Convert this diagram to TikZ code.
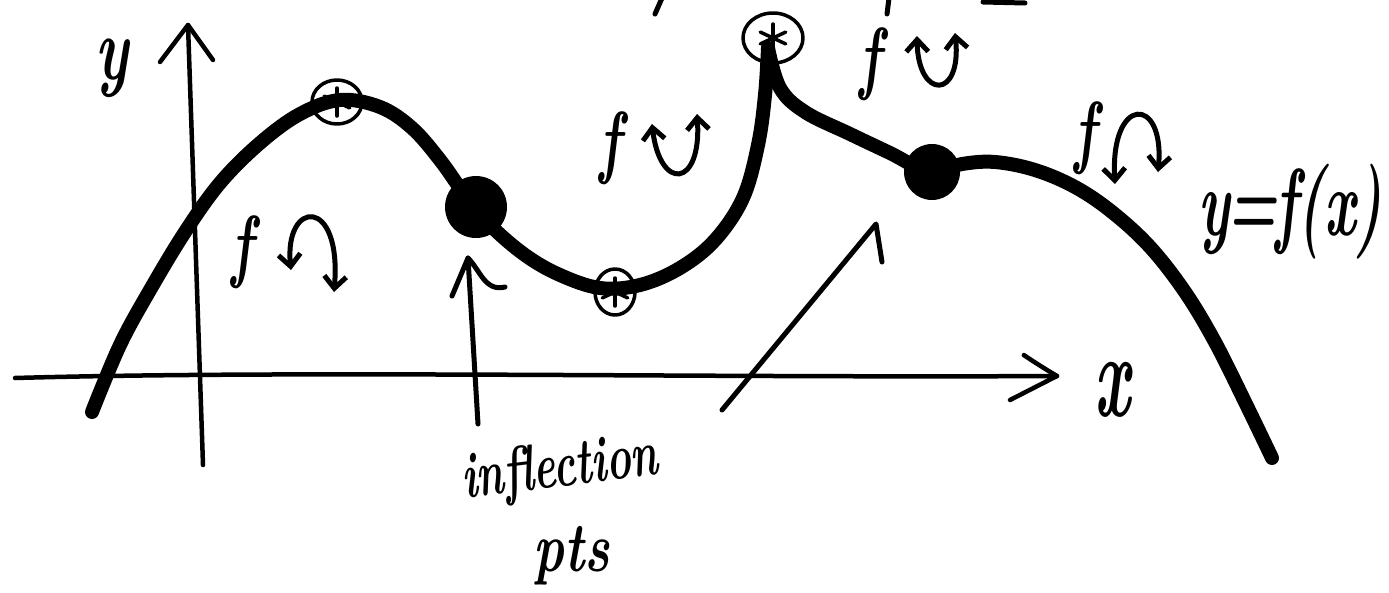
\documentclass[tikz,border=0pt]{standalone}
\usepackage{fontspec}
\usetikzlibrary{arrows.meta}
\begin{document}
\begin{tikzpicture}[x=1pt,y=-1pt,
  curve/.style={line width=14pt,line cap=round,line join=round},
  axis/.style={line width=4.5pt,line cap=round,line join=round},
  pen/.style={line width=5pt,line cap=round,line join=round},
  thinpen/.style={line width=3.5pt,line cap=round,line join=round},
  hand/.style={inner sep=0pt,font=\fontsize{#1}{#1}\selectfont\bfseries\itshape},
  hand/.default=60,
  bigdot/.style={circle,fill=black,inner sep=0pt,minimum size=#1},
  tipdd/.style={{Straight Barb[length=12pt,width=22pt,line width=5pt]}-{Straight Barb[length=12pt,width=22pt,line width=5pt]}}
]
\useasboundingbox (0,0) rectangle (1389,592);

% cut-off strokes at top edge
\draw[pen] (662,-2) -- (655,14);
\draw[pen] (889,-2) -- (887,14);
\draw[pen] (983,2) -- (1025,3);

% axes
\coordinate (xl) at (15,378);
\coordinate (xr) at (1057,376);
\draw[axis] (xl) .. controls (300,370) and (700,378) .. (xr);
\draw[axis] (1025,356) .. controls (1020,352) and (1030,360) .. (xr) -- (1010,400);
\coordinate (yb) at (203,465);
\coordinate (yt) at (188,25);
\draw[axis] (yb) -- (yt);
\draw[axis] (160,62) -- (yt) -- (213,60);

% main curve
\coordinate (cusp) at (768,48);
\draw[curve] plot[smooth,tension=0.6] coordinates {(92,412) (120,345) (150,290) (185,232) (220,183) (260,143) (300,114) (340,100) (380,107) (412,128) (440,160) (465,195) (490,225) (525,255) (560,275) (600,288) (640,285) (680,268) (715,240) (743,198) (758,145) (765,95) (768,48)};
\draw[curve] plot[smooth,tension=0.6] coordinates {(768,48) (780,88) (805,112) (850,134) (890,153) (930,172) (962,164) (995,162) (1035,170) (1075,187) (1112,212) (1150,247) (1185,292) (1215,342) (1245,402) (1272,458)};

% inflection points
\node[bigdot=62pt] (ip1) at (476,207) {};
\node[bigdot=56pt] (ip2) at (932,172) {};

% critical points (circled asterisks)
\foreach \name/\cx/\cy/\rx/\ry in {cmax/337/102/25/22, cmin/615/292/20/23, ccusp/773/38/30/25}{
  \coordinate (\name) at (\cx,\cy);
  \draw[thinpen] (\name) ellipse [x radius=\rx, y radius=\ry];
  \foreach \a in {90,25,155}{
    \draw[thinpen] (\name) ++(\a:14) -- ++(\a+180:28);
  }
}

% axis labels
\node[hand=62] (ylab) at (112,68) {\scalebox{0.95}[1.45]{y}};
\node[hand=75] (xlab) at (1112,390) {\scalebox{0.85}[1.6]{x}};
\node[hand=56] (eq) at (1290,212) {\scalebox{1}[1.7]{y\kern-2pt=\kern-2pt f(x)}};

% concavity labels
\node[hand] (f1) at (242,252) {\scalebox{0.9}[1.35]{f}};
\draw[pen,tipdd] (291,270) .. controls (284,200) and (342,195) .. (334,292);
\node[hand] (f2) at (610,148) {\scalebox{0.9}[1.35]{f}};
\draw[pen,tipdd] (652,124) .. controls (660,192) and (702,188) .. (697,114);
\node[hand] (f3) at (870,64) {\scalebox{0.9}[1.35]{f}};
\draw[pen,tipdd] (917,36) .. controls (918,100) and (962,100) .. (955,33);
\node[hand] (f4) at (1085,138) {\scalebox{0.9}[1.35]{f}};
\draw[pen,tipdd] (1115,184) .. controls (1110,95) and (1165,95) .. (1158,172);

% inflection points text
\node[hand=42,rotate=7] (infl) at (560,470) {\scalebox{1}[1.55]{inflection}};
\node[hand=52] (pts) at (572,556) {\scalebox{1}[1.35]{pts}};

% arrows to inflection points
\coordinate (a1s) at (478,424);
\coordinate (a1t) at (468,258);
\draw[pen] (a1s) -- (a1t);
\draw[pen] (452,296) -- (a1t) .. controls (480,270) and (485,292) .. (505,287);
\coordinate (a2s) at (722,410);
\coordinate (a2t) at (876,224);
\draw[pen] (a2s) -- (a2t) -- (882,262);
\end{tikzpicture}
\end{document}
